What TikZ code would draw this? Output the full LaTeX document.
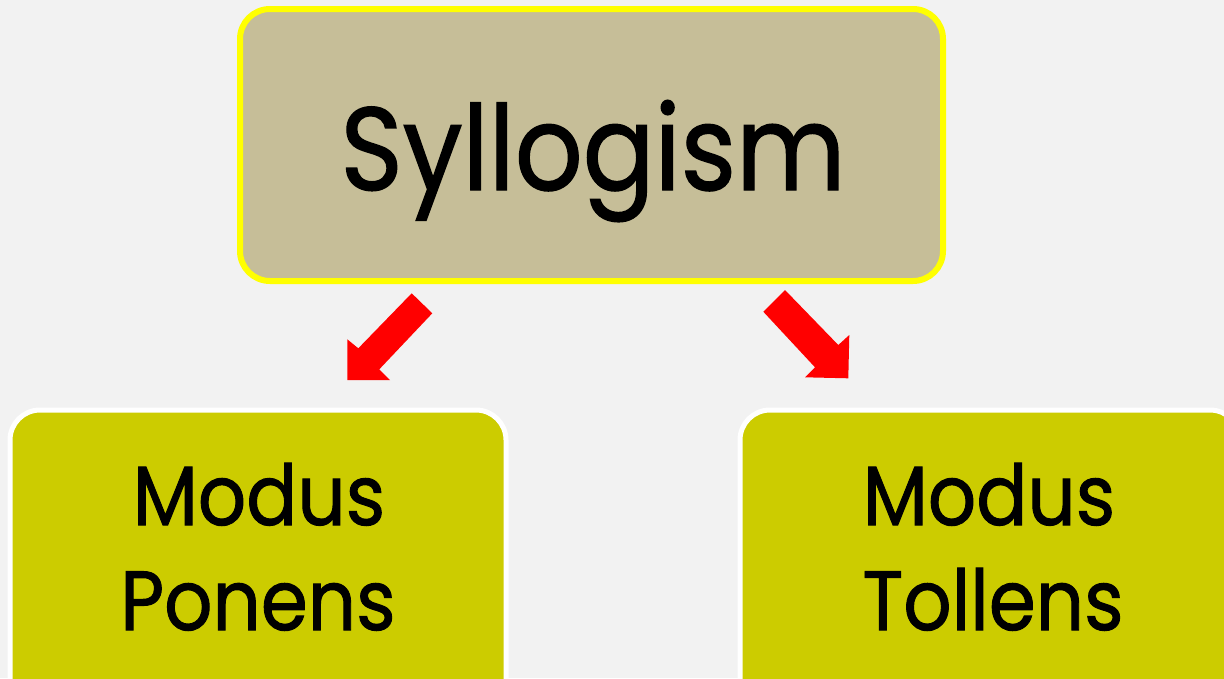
\documentclass[tikz,border=0pt]{standalone}
\usepackage{fontspec}
\setmainfont{Poppins}
\newfontfamily\heavyfont{Poppins}[FakeBold=1.2]
\newcommand{\squeezetext}[1]{\scalebox{0.9}[1]{#1}}
\definecolor{bgcol}{HTML}{F2F2F2}
\definecolor{topfill}{HTML}{C6BE98}
\definecolor{topline}{HTML}{FFFF00}
\definecolor{subfill}{HTML}{CCCC00}
\definecolor{arrowred}{HTML}{FF0000}
\begin{document}
\begin{tikzpicture}[x=1pt,y=-1pt,
  topbox/.style={draw=topline,fill=topfill,line width=6pt,rounded corners=30pt,inner sep=0pt},
  subbox/.style={draw=white,fill=subfill,line width=5pt,rounded corners=30pt,inner sep=0pt},
  bigtext/.style={font=\heavyfont\fontsize{118}{130}\selectfont,anchor=base,inner sep=0pt},
  subtext/.style={font=\heavyfont\fontsize{84}{100}\selectfont,anchor=base,inner sep=0pt},
  blockarrow/.style={fill=arrowred,draw=none}]
\fill[bgcol] (0,0) rectangle (1224,678);
\useasboundingbox (0,0) rectangle (1224,678);
\node[topbox,minimum width=703pt,minimum height=272pt] (top) at (591.5,145) {};
\node[subbox,minimum width=496pt,minimum height=310pt] (left) at (258,565) {};
\node[subbox,minimum width=500pt,minimum height=310pt] (right) at (990,565) {};
\node[bigtext] (title) at (593,190) {\squeezetext{Syllogism}};
\node[subtext] (l1) at (259,525) {\squeezetext{Modus}};
\node[subtext] (l2) at (258,630) {\squeezetext{Ponens}};
\node[subtext] (r1) at (989,525) {\squeezetext{Modus}};
\node[subtext] (r2) at (993,630) {\squeezetext{Tollens}};
\fill[blockarrow] (411.7,293.3) -- (432.3,313.3) -- (379.3,369.3) -- (390,380) -- (347.3,380) -- (347.3,339.3) -- (358.3,348.3) -- cycle;
\fill[blockarrow] (785,290) -- (763.3,311.7) -- (815,367.3) -- (805,377.3) -- (848.3,378.3) -- (849.3,335) -- (838.3,345) -- cycle;
\end{tikzpicture}
\end{document}
